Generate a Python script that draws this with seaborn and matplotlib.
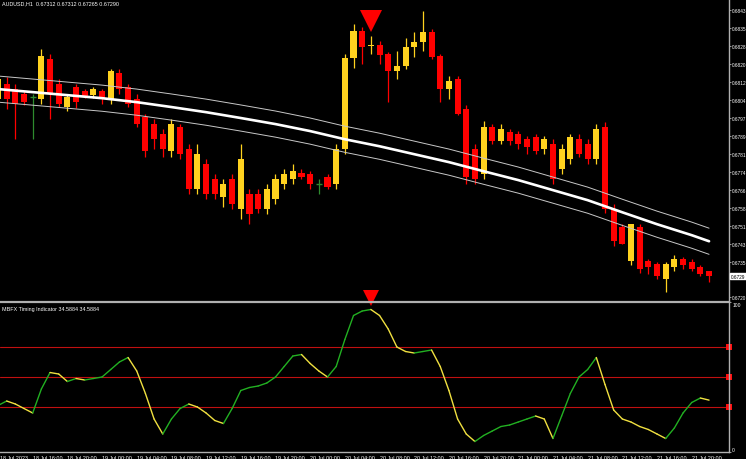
import numpy as np
import pandas as pd
import matplotlib
matplotlib.use("Agg")
import matplotlib.pyplot as plt
import seaborn as sns

# AUDUSD H1 bars, 18 Jul 12:00 .. 21 Jul 22:00
opens = [0.68048, 0.68113, 0.68091, 0.68070, 0.68057, 0.68048, 0.68220, 0.68113, 0.68014, 0.68100,
         0.68083, 0.68066, 0.68083, 0.68048, 0.68160, 0.68100, 0.68048, 0.67971, 0.67941, 0.67898,
         0.67826, 0.67928, 0.67834, 0.67663, 0.67770, 0.67706, 0.67629, 0.67706, 0.67577, 0.67641,
         0.67641, 0.67577, 0.67620, 0.67684, 0.67706, 0.67732, 0.67727, 0.67684, 0.67714, 0.67684,
         0.67834, 0.68224, 0.68340, 0.68276, 0.68280, 0.68241, 0.68168, 0.68190, 0.68271, 0.68293,
         0.68335, 0.68233, 0.68091, 0.68134, 0.68006, 0.67834, 0.67727, 0.67928, 0.67868, 0.67907,
         0.67898, 0.67877, 0.67886, 0.67834, 0.67856, 0.67748, 0.67791, 0.67877, 0.67856, 0.67791,
         0.67928, 0.67577, 0.67500, 0.67354, 0.67500, 0.67354, 0.67341, 0.67277, 0.67328, 0.67363,
         0.67350, 0.67328, 0.67312]
highs = [0.68156, 0.68143, 0.68113, 0.68083, 0.68070, 0.68263, 0.68241, 0.68134, 0.68070, 0.68113,
         0.68091, 0.68100, 0.68091, 0.68177, 0.68177, 0.68113, 0.68070, 0.67984, 0.67963, 0.67920,
         0.67963, 0.67941, 0.67856, 0.67856, 0.67791, 0.67727, 0.67706, 0.67727, 0.67856, 0.67663,
         0.67663, 0.67684, 0.67727, 0.67748, 0.67770, 0.67748, 0.67740, 0.67706, 0.67727, 0.67856,
         0.68241, 0.68370, 0.68357, 0.68318, 0.68297, 0.68250, 0.68254, 0.68310, 0.68335, 0.68426,
         0.68348, 0.68241, 0.68147, 0.68147, 0.68023, 0.67856, 0.67954, 0.67941, 0.67941, 0.67920,
         0.67911, 0.67890, 0.67898, 0.67890, 0.67877, 0.67856, 0.67898, 0.67898, 0.67877, 0.67941,
         0.67950, 0.67599, 0.67513, 0.67513, 0.67513, 0.67363, 0.67350, 0.67350, 0.67380, 0.67371,
         0.67363, 0.67337, 0.67312]
lows = [0.68027, 0.68006, 0.67877, 0.68023, 0.67877, 0.68027, 0.67963, 0.68014, 0.67997, 0.68010,
        0.68053, 0.68053, 0.68027, 0.68027, 0.68070, 0.68014, 0.67928, 0.67800, 0.67834, 0.67800,
        0.67800, 0.67791, 0.67641, 0.67641, 0.67620, 0.67620, 0.67586, 0.67577, 0.67534, 0.67513,
        0.67560, 0.67556, 0.67599, 0.67663, 0.67684, 0.67706, 0.67663, 0.67641, 0.67663, 0.67663,
        0.67813, 0.68181, 0.68198, 0.68241, 0.68198, 0.68036, 0.68134, 0.68177, 0.68228, 0.68254,
        0.68220, 0.68036, 0.68048, 0.67980, 0.67684, 0.67684, 0.67706, 0.67856, 0.67856, 0.67851,
        0.67834, 0.67813, 0.67813, 0.67813, 0.67684, 0.67727, 0.67770, 0.67800, 0.67770, 0.67770,
        0.67560, 0.67420, 0.67427, 0.67336, 0.67303, 0.67300, 0.67277, 0.67220, 0.67311, 0.67320,
        0.67311, 0.67290, 0.67265]
closes = [0.68134, 0.68048, 0.68027, 0.68036, 0.68057, 0.68233, 0.68070, 0.68027, 0.68057, 0.68036,
          0.68061, 0.68091, 0.68048, 0.68168, 0.68091, 0.68027, 0.67941, 0.67826, 0.67877, 0.67834,
          0.67941, 0.67813, 0.67663, 0.67813, 0.67641, 0.67641, 0.67684, 0.67599, 0.67791, 0.67556,
          0.67577, 0.67663, 0.67706, 0.67727, 0.67740, 0.67714, 0.67684, 0.67684, 0.67672, 0.67834,
          0.68224, 0.68340, 0.68271, 0.68280, 0.68237, 0.68168, 0.68190, 0.68271, 0.68293, 0.68335,
          0.68228, 0.68091, 0.68126, 0.67984, 0.67714, 0.67706, 0.67928, 0.67868, 0.67920, 0.67868,
          0.67856, 0.67843, 0.67826, 0.67877, 0.67706, 0.67834, 0.67886, 0.67813, 0.67791, 0.67920,
          0.67577, 0.67440, 0.67427, 0.67513, 0.67320, 0.67328, 0.67290, 0.67341, 0.67363, 0.67337,
          0.67320, 0.67298, 0.67290]

# moving average envelope, read every 4th bar
ma_bars = [0, 4, 8, 12, 16, 20, 24, 28, 32, 36, 40, 44, 48, 52, 56, 60, 64, 68, 72, 76, 80, 82]
ma_mid = [0.68091, 0.68078, 0.68065, 0.68052, 0.68035, 0.68014, 0.67992, 0.67967, 0.67941, 0.67911, 0.67876,
          0.67846, 0.67812, 0.67778, 0.67739, 0.67701, 0.67658, 0.67615, 0.67563, 0.67512, 0.67465, 0.67439]
ma_upper = [0.68147, 0.68134, 0.68121, 0.68108, 0.68091, 0.68070, 0.68048, 0.68023, 0.67997, 0.67967, 0.67932,
            0.67902, 0.67868, 0.67834, 0.67795, 0.67757, 0.67714, 0.67671, 0.67619, 0.67568, 0.67521, 0.67495]
ma_lower = [0.68035, 0.68022, 0.68009, 0.67996, 0.67979, 0.67958, 0.67936, 0.67911, 0.67885, 0.67855, 0.67820,
            0.67790, 0.67756, 0.67722, 0.67683, 0.67645, 0.67602, 0.67559, 0.67507, 0.67456, 0.67409, 0.67383]

# MBFX timing indicator
mbfx = [31, 34, 32, 29, 26, 42, 53, 52, 47, 49, 48, 49, 50, 55, 60, 63, 54, 39, 22, 12,
        22, 29, 32, 30, 26, 21, 19, 29, 41, 43, 44, 46, 50, 57, 64, 65, 59, 54, 50, 57,
        75, 91, 94, 95, 91, 82, 70, 67, 66, 67, 68, 57, 41, 22, 12, 7, 11, 14, 17, 18,
        20, 22, 24, 22, 9, 24, 39, 50, 55, 63, 45, 28, 22, 20, 17, 15, 12, 9, 16, 26,
        33, 36, 34.5884]
mbfx_levels = [70, 50, 30]
signal_bar = 43

price_ticks = [0.68430, 0.68353, 0.68276, 0.68199, 0.68122, 0.68045, 0.67968, 0.67891, 0.67814,
               0.67737, 0.67660, 0.67583, 0.67506, 0.67429, 0.67352, 0.67198]
time_ticks = [4, 8, 12, 16, 20, 24, 28, 32, 36, 40, 44, 48, 52, 56, 60, 64, 68, 72, 76, 80]
time_labels = ["18 Jul 16:00", "18 Jul 20:00", "19 Jul 00:00", "19 Jul 04:00", "19 Jul 08:00",
               "19 Jul 12:00", "19 Jul 16:00", "19 Jul 20:00", "20 Jul 00:00", "20 Jul 04:00",
               "20 Jul 08:00", "20 Jul 12:00", "20 Jul 16:00", "20 Jul 20:00", "21 Jul 00:00",
               "21 Jul 04:00", "21 Jul 08:00", "21 Jul 12:00", "21 Jul 16:00", "21 Jul 20:00"]

bars = pd.DataFrame({"o": opens, "h": highs, "l": lows, "c": closes})
bars["i"] = np.arange(len(bars))
ma = pd.DataFrame({"i": ma_bars, "mid": ma_mid, "up": ma_upper, "dn": ma_lower})

sns.set_style("dark", {"axes.facecolor": "black", "figure.facecolor": "black"})
plt.rcParams["font.family"] = ["Liberation Sans", "DejaVu Sans"]

BULL, BEAR, DOJI = "#FFD21F", "#FF0000", "#2E8B2E"
GRID = "#B0B0B0"
FS = 3.9

fig = plt.figure(figsize=(7.46, 4.60), dpi=100)
ax = fig.add_axes([0, 0.3435, 0.9772, 0.6565])
ax2 = fig.add_axes([0, 0.0152, 0.9772, 0.3261])

# candles
for _, r in bars.iterrows():
    if r.c == r.o:
        ax.vlines(r.i, r.l, r.h, color=DOJI, lw=0.9)
        ax.hlines(r.c, r.i - 0.35, r.i + 0.35, color=DOJI, lw=1.0)
        continue
    col = BULL if r.c > r.o else BEAR
    ax.vlines(r.i, r.l, r.h, color=col, lw=0.9)
    ax.bar(r.i, max(abs(r.c - r.o), 0.00004), bottom=min(r.o, r.c), width=0.7, color=col, lw=0)

sns.lineplot(data=ma, x="i", y="up", ax=ax, color="#C8C8C8", lw=0.7)
sns.lineplot(data=ma, x="i", y="dn", ax=ax, color="#C8C8C8", lw=0.7)
sns.lineplot(data=ma, x="i", y="mid", ax=ax, color="white", lw=1.9)

ax.plot(signal_bar, 0.68383, marker="v", color="#FF0000", ms=16, mew=0)

ax.set_xlim(0.23, 84.3)
ax.set_ylim(0.67183, 0.68477)
ax.set_xticks([])
ax.yaxis.tick_right()
ax.set_yticks(price_ticks)
ax.set_yticklabels([f"{t:.4f}" for t in price_ticks])
ax.tick_params(axis="y", colors=GRID, labelcolor="white", labelsize=3.4, length=1.5, width=0.6, pad=0.4)
ax.set_xlabel("")
ax.set_ylabel("")
for s in ["left", "top", "bottom"]:
    ax.spines[s].set_visible(False)
ax.spines["right"].set_color(GRID)
ax.spines["right"].set_linewidth(1.0)
ax.text(0.003, 0.995, "AUDUSD,H1  0.67312 0.67312 0.67265 0.67290", transform=ax.transAxes,
        color="white", fontsize=FS, va="top", ha="left")
ax.text(1.003, (0.67290 - 0.67183) / (0.68477 - 0.67183), "0.6729", transform=ax.transAxes,
        color="black", fontsize=3.4, va="center", ha="left", clip_on=False,
        bbox=dict(boxstyle="square,pad=0.2", fc="white", ec="white"))

# indicator panel
for lv in mbfx_levels:
    ax2.axhline(lv, color="#C01010", lw=0.8)
    ax2.plot(84.3, lv, marker="s", color="#FF1010", ms=5, clip_on=False, mew=0)
for k in range(1, len(mbfx)):
    col = "#22B022" if mbfx[k] > mbfx[k - 1] else "#F0E040"
    ax2.plot([k - 1, k], [mbfx[k - 1], mbfx[k]], color=col, lw=1.0, solid_capstyle="round")
ax2.plot(signal_bar, 103, marker="v", color="#FF0000", ms=12, mew=0, clip_on=False)

ax2.set_xlim(0.23, 84.3)
ax2.set_ylim(0, 100)
ax2.yaxis.tick_right()
ax2.set_yticks([0, 100])
ax2.set_yticklabels(["0", "100"])
ax2.tick_params(axis="y", colors=GRID, labelcolor="white", labelsize=3.6, length=1.5, width=0.6, pad=0.8)
for lbl in ax2.get_yticklabels():
    lbl.set_va("bottom" if lbl.get_text() == "0" else "top")
ax2.set_xticks(time_ticks)
ax2.set_xticklabels(time_labels)
ax2.tick_params(axis="x", colors=GRID, labelcolor="white", labelsize=FS, length=2, width=0.6, pad=0.5)
for lbl in ax2.get_xticklabels():
    lbl.set_ha("left")
ax2.text(0.23, -2.0, "18 Jul 2023", color="white", fontsize=FS, va="top", ha="left", clip_on=False)
ax2.spines["left"].set_visible(False)
ax2.spines["top"].set_color(GRID)
ax2.spines["top"].set_linewidth(1.6)
for s in ["right", "bottom"]:
    ax2.spines[s].set_color(GRID)
    ax2.spines[s].set_linewidth(1.0)
ax2.text(0.003, 0.975, "MBFX Timing Indicator 34.5884 34.5884", transform=ax2.transAxes,
         color="white", fontsize=FS, va="top", ha="left")

fig.savefig("out.png", dpi=100, facecolor="black")
